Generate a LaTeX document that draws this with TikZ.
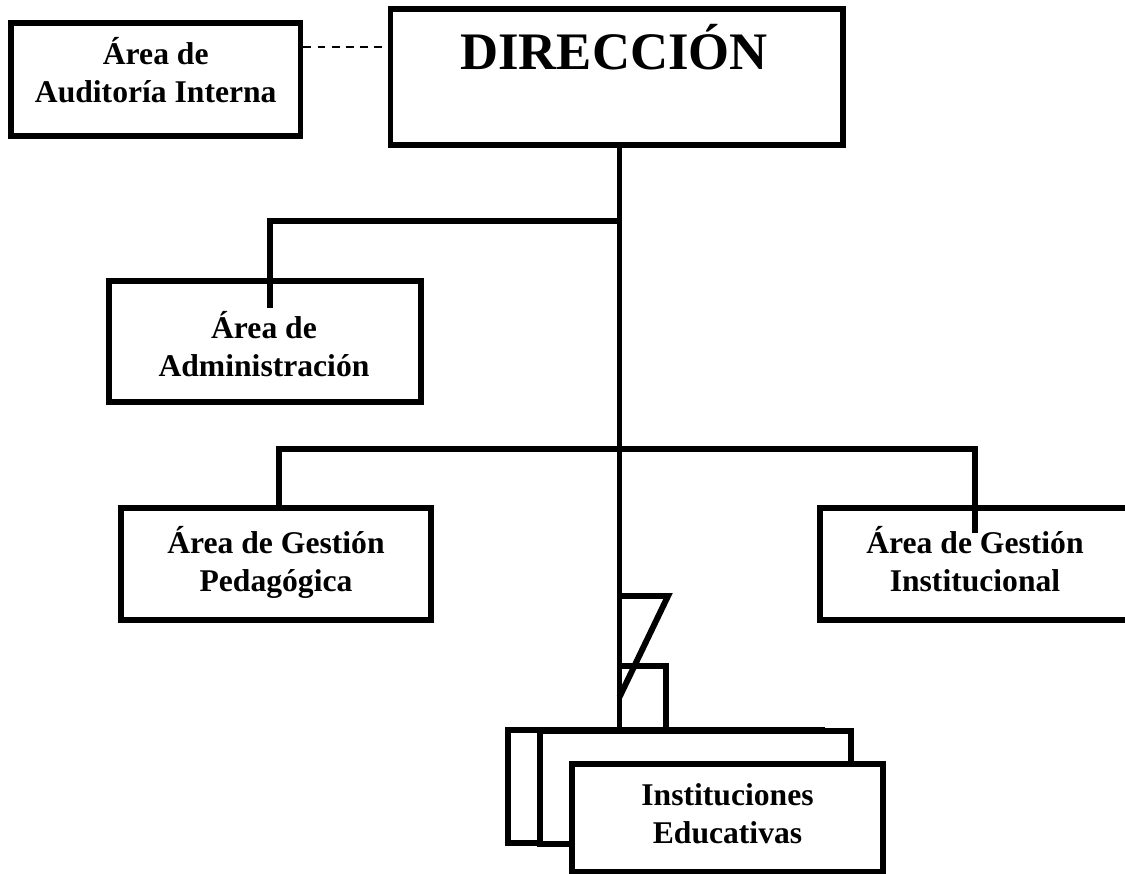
\documentclass[tikz,border=0pt]{standalone}
\usepackage{fontspec}
\setmainfont{Liberation Serif}
\usetikzlibrary{fit, math}

\begin{document}
\begin{tikzpicture}[x=0.02cm, y=-0.02cm,
  box/.style={draw, line width=3.4pt, fill=white, inner sep=0pt},
  link/.style={line width=3.4pt},
  dashline/.style={line width=1.2pt, dash pattern=on 4.5pt off 3.5pt},
  txt/.style={font=\bfseries\fontsize{18pt}{21.5pt}\selectfont, align=center, inner sep=0pt, anchor=north}]

\useasboundingbox (0,0) rectangle (1125,874);

\tikzmath{
			\tx = 619.5; \ya = 221; \yb = 449;
          }

% boxes
\node[box, fit={(390.5,9)(842.5,145)}] (dir) {};
\node[box, fit={(11,23)(300.5,136)}] (audit) {};
\node[box, fit={(109,281)(421,402)}] (admin) {};
\node[box, fit={(121,508)(431,620)}] (pedag) {};
\node[box, fit={(820,508)(1130,620)}] (instit) {};
\node[box, fit={(508,730)(822,843)}] (inst1) {};
\node[box, fit={(540,731)(851,844)}] (inst2) {};
\node[box, fit={(572,764)(883,872)}] (inst3) {};

% texts
\node[font=\bfseries\fontsize{30pt}{36pt}\selectfont, anchor=base, inner sep=0pt] (dir-t) at ([shift={(-2.5,-7)}]dir.center) {DIRECCIÓN};
\node[txt] (audit-t) at ([shift={(0,-42)}]audit.center) {Área de\\Auditoría Interna};
\node[txt] (admin-t) at ([shift={(-1,-30)}]admin.center) {Área de\\Administración};
\node[txt] (pedag-t) at ([shift={(0,-38)}]pedag.center) {Área de Gestión\\Pedagógica};
\node[txt] (instit-t) at ([shift={(0,-38)}]instit.center) {Área de Gestión\\Institucional};
\node[txt] (inst3-t) at ([shift={(0,-35)}]inst3.center) {Instituciones\\Educativas};

% lines
\coordinate (trunk) at (\tx,0);
\coordinate (row1) at (0,\ya);
\coordinate (row2) at (0,\yb);
\coordinate (dl) at (0,47);
\coordinate (zz) at (668,596);
\coordinate (zb) at (0,697);
\coordinate (sq) at (666,666);

\draw[dashline] (audit.east |- dl) -- (dir.west |- dl);
\draw[link] (dir.south -| trunk) -- (inst1.north -| trunk);
\draw[link] (trunk |- row1) -| ([shift={(5,30)}]admin.north);
\draw[link] ([shift={(3,0)}]pedag.north) |- (row2 -| instit.north) -- ([shift={(0,28)}]instit.north);
\draw[link] (trunk |- zz) -- (zz) -- (trunk |- zb);
\draw[link] (trunk |- sq) -| (sq |- inst1.north);

\end{tikzpicture}
\end{document}
